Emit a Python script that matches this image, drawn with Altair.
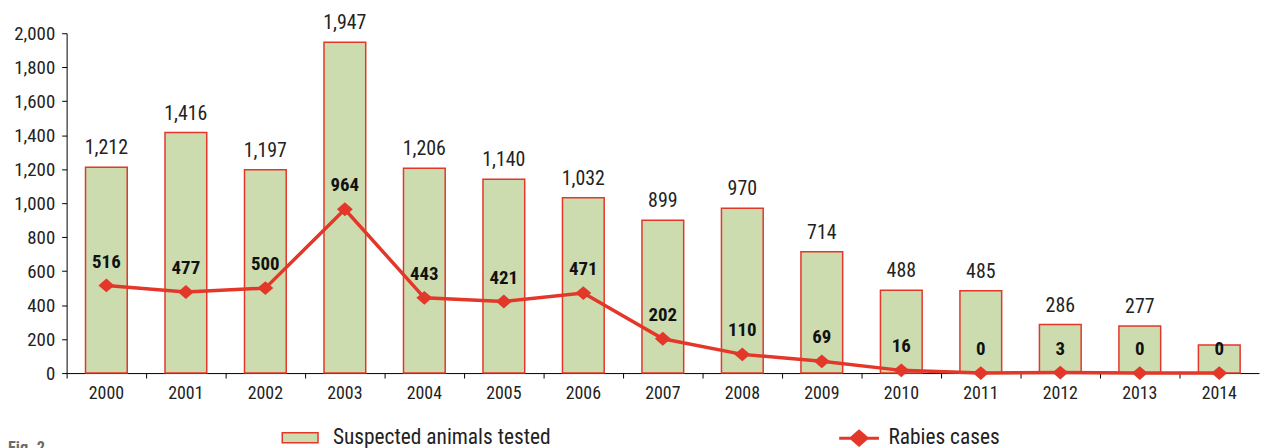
import altair as alt
import pandas as pd

years = ["2000", "2001", "2002", "2003", "2004", "2005", "2006", "2007",
         "2008", "2009", "2010", "2011", "2012", "2013", "2014"]
tested = [1212, 1416, 1197, 1947, 1206, 1140, 1032, 899, 970, 714, 488, 485, 286, 277, 165]
tested_labels = ["1,212", "1,416", "1,197", "1,947", "1,206", "1,140", "1,032", "899",
                 "970", "714", "488", "485", "286", "277", ""]
cases = [516, 477, 500, 964, 443, 421, 471, 202, 110, 69, 16, 0, 3, 0, 0]
y_ticks = [0, 200, 400, 600, 800, 1000, 1200, 1400, 1600, 1800, 2000]
series_names = ["Suspected animals tested", "Rabies cases"]

df = pd.DataFrame({"year": years, "tested": tested, "tlabel": tested_labels, "cases": cases,
                   "s1": series_names[0], "s2": series_names[1]})

FONT = "Roboto Condensed, Liberation Sans Narrow, DejaVu Sans Condensed, sans-serif"
GREEN = "#cddcae"
RED = "#e3372a"

x_axis = alt.Axis(title=None, labelAngle=0, bandPosition=0, labelFontSize=18,
                  labelFont=FONT, labelColor="#222", tickColor="#000",
                  domainColor="#000", tickSize=5, labelPadding=7, grid=False)
x = alt.X("year:N", sort=years, scale=alt.Scale(paddingInner=0, paddingOuter=0), axis=x_axis)
y_axis = alt.Axis(title=None, values=y_ticks, format=",.0f",
                  labelFontSize=19, labelFont=FONT, labelColor="#222",
                  tickColor="#000", domainColor="#000", tickSize=5,
                  labelPadding=7, labelOverlap=False, grid=False)
yscale = alt.Scale(domain=[0, 2000], nice=False)
y_t = alt.Y("tested:Q", scale=yscale, axis=y_axis)
y_c = alt.Y("cases:Q", scale=yscale, axis=y_axis)

base = alt.Chart(df)

bars = base.mark_bar(size=42, stroke=RED, strokeWidth=1.5).encode(
    x=x, y=y_t,
    fill=alt.Fill("s1:N",
                  scale=alt.Scale(range=[GREEN]),
                  legend=alt.Legend(title=None, orient="none", legendX=216, legendY=388,
                                    symbolType="M-1,-0.28L1,-0.28L1,0.28L-1,0.28Z",
                                    symbolSize=1296, symbolStrokeColor=RED,
                                    symbolStrokeWidth=1.5, labelFontSize=21.5,
                                    labelFont=FONT, labelColor="#222", labelOffset=14,
                                    labelLimit=400)),
)

bar_text = base.transform_filter("datum.tlabel != ''").mark_text(
    dy=-19, baseline="middle", fontSize=20, font=FONT, color="#222"
).encode(x=x, y=y_t, text="tlabel:N")

line = base.mark_line(color=RED, strokeWidth=3.5).encode(x=x, y=y_c)

pts = base.mark_point(filled=True, opacity=1,
                      shape="M-1,0L0,-0.87L1,0L0,0.87Z", size=256).encode(
    x=x, y=y_c,
    color=alt.Color("s2:N", scale=alt.Scale(range=[RED]),
                    legend=alt.Legend(title=None, orient="none", legendX=776, legendY=386,
                                      symbolType="M-1,0L-0.4,0L0,-0.35L0.4,0L1,0L0.4,0L0,0.35L-0.4,0Z",
                                      symbolSize=1600, symbolStrokeColor=RED,
                                      symbolFillColor=RED, symbolStrokeWidth=3,
                                      labelFontSize=21.5, labelFont=FONT, labelColor="#222",
                                      labelOffset=8, labelLimit=400)),
)

case_text = base.mark_text(dy=-24, baseline="middle", fontSize=19, font=FONT,
                           fontWeight="bold", color="#111").encode(x=x, y=y_c, text="cases:Q")

fig = alt.Chart(pd.DataFrame({"t": ["Fig. 2"]})).mark_text(
    align="left", baseline="top", fontSize=16.5, font=FONT, fontWeight="bold", color="#6b6b6b"
).encode(x=alt.value(-59), y=alt.value(409), text="t:N")

chart = alt.layer(bars, bar_text, line, pts, case_text, fig).resolve_scale(
    fill="independent", color="independent"
).properties(
    width=1200, height=342, autosize="none",
    padding={"left": 59, "top": 24, "right": 4, "bottom": 74},
).configure_view(stroke=None)

chart.save("out.html", embed_options={"renderer": "svg", "actions": False})
